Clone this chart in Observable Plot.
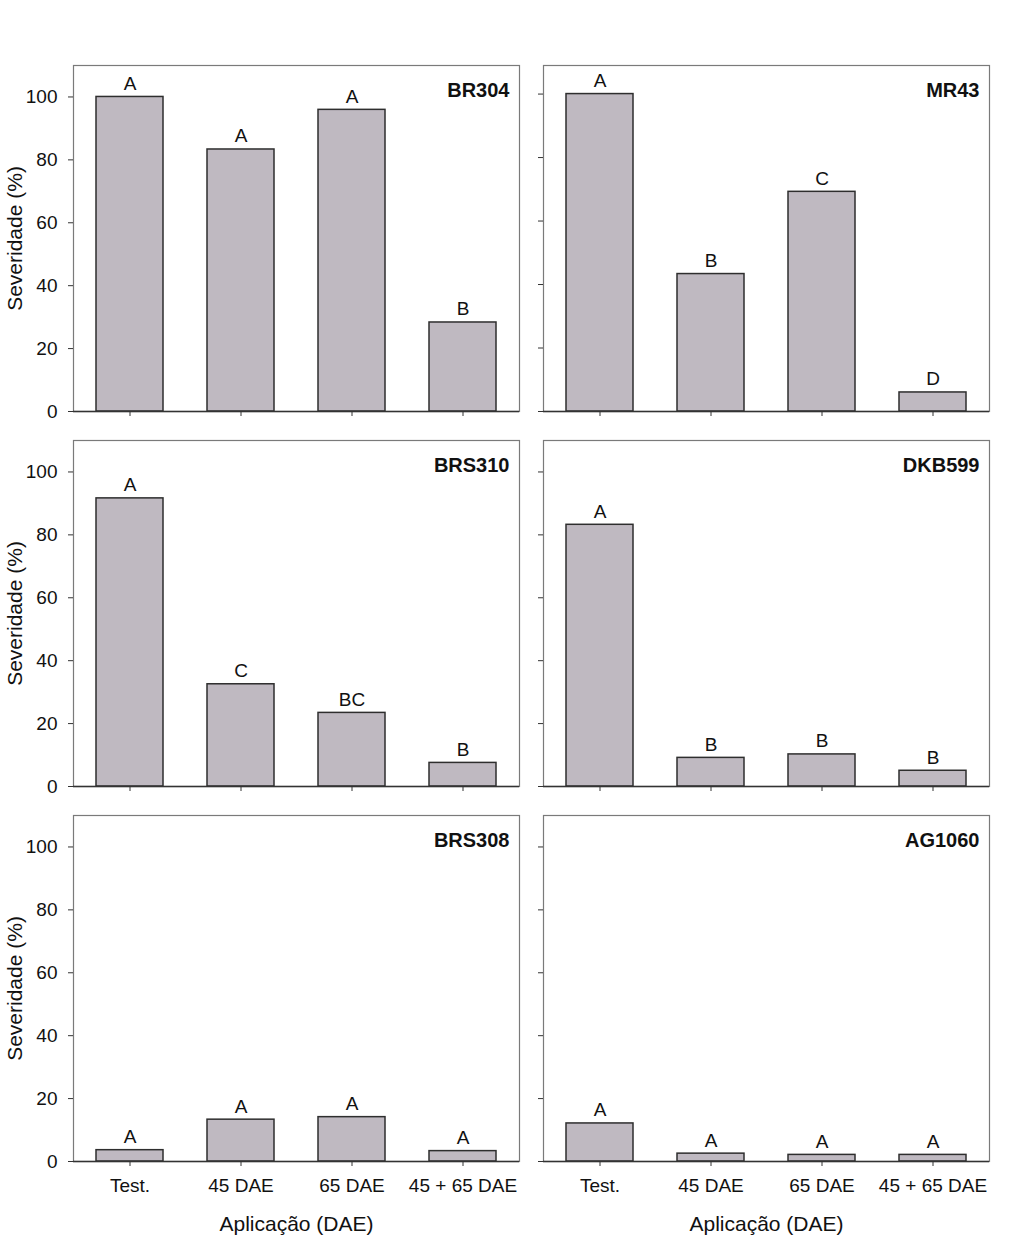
<!DOCTYPE html>
<html>
<head>
<meta charset="utf-8">
<script src="https://cdn.jsdelivr.net/npm/d3@7"></script>
<script src="https://cdn.jsdelivr.net/npm/@observablehq/plot@0.6"></script>
<style>
  html, body { margin: 0; padding: 0; background: #fff; }
  #wrap { position: relative; width: 1024px; height: 1240px; font-family: "Liberation Sans", Arial, sans-serif; }
  .panel { position: absolute; }
</style>
</head>
<body>
<div id="wrap"></div>
<script>
// ---- data ----
const treatments = ["Test.", "45 DAE", "65 DAE", "45 + 65 DAE"];
const cultivars = ["BR304", "MR43", "BRS310", "DKB599", "BRS308", "AG1060"];
const valBR304  = [100, 83.3, 95.9, 28.3];
const valMR43   = [100, 43.3, 69.2, 6.0];
const valBRS310 = [91.6, 32.5, 23.4, 7.5];
const valDKB599 = [83.2, 9.1, 10.2, 5.0];
const valBRS308 = [3.6, 13.3, 14.1, 3.3];
const valAG1060 = [12.1, 2.5, 2.1, 2.1];
const letBR304  = ["A", "A", "A", "B"];
const letMR43   = ["A", "B", "C", "D"];
const letBRS310 = ["A", "C", "BC", "B"];
const letDKB599 = ["A", "B", "B", "B"];
const letBRS308 = ["A", "A", "A", "A"];
const letAG1060 = ["A", "A", "A", "A"];
const yMax = [110, 109, 110, 110, 110, 110];
const yTicks = [0, 20, 40, 60, 80, 100];
const yTitle = "Severidade (%)";
const xTitle = "Aplicação (DAE)";

const values = [valBR304, valMR43, valBRS310, valDKB599, valBRS308, valAG1060];
const letters = [letBR304, letMR43, letBRS310, letDKB599, letBRS308, letAG1060];

const FONT = '"Liberation Sans", Arial, Helvetica, sans-serif';
const wrap = document.getElementById("wrap");

cultivars.forEach((name, idx) => {
  const col = idx % 2, row = Math.floor(idx / 2);
  const isLeft = col === 0, isBottom = row === 2;
  const data = treatments.map((t, i) => ({trt: t, val: values[idx][i], letter: letters[idx][i]}));

  const width = isLeft ? 530 : 494;
  const marginLeft = isLeft ? 73 : 13;
  const marginRight = isLeft ? 11 : 35;
  const marginTop = 25;
  const marginBottom = isBottom ? 75 : 4;
  const height = marginTop + 346 + marginBottom;

  const marks = [
    Plot.frame({stroke: "#7a7a7a", strokeWidth: 1.2}),
    Plot.barY(data, {x: "trt", y: "val", fill: "#bfb9c1", stroke: "#2e2e2e", strokeWidth: 1.5}),
    Plot.ruleY([0], {stroke: "#333", strokeWidth: 1.5}),
    Plot.axisY({ticks: yTicks, tickSize: 5, tickPadding: 11, stroke: "#333",
                tickFormat: isLeft ? (d => d) : (() => ""), label: null, fontSize: 19}),
    Plot.axisX({tickSize: 5, tickPadding: 12, stroke: "#333",
                tickFormat: isBottom ? (d => d) : (() => ""), label: null, fontSize: 19}),
    Plot.text(data, {x: "trt", y: "val", text: "letter", dy: -7, lineAnchor: "bottom",
                     fontSize: 19, fill: "#111"}),
    Plot.text([name], {frameAnchor: "top-right", text: d => d, dx: -10, dy: 17, lineAnchor: "top",
                       textAnchor: "end", fontWeight: "bold", fontSize: 20, fill: "#111"})
  ];
  if (isLeft) {
    marks.push(Plot.text([yTitle], {frameAnchor: "left", text: d => d, rotate: -90, dx: -66,
      lineAnchor: "top", textAnchor: "middle", fontSize: 21, fill: "#111"}));
  }
  if (isBottom) {
    marks.push(Plot.text([xTitle], {frameAnchor: "bottom", text: d => d, dy: 69,
      lineAnchor: "bottom", textAnchor: "middle", fontSize: 21, fill: "#111"}));
  }

  const chart = Plot.plot({
    width, height, marginLeft, marginRight, marginTop, marginBottom,
    style: {fontFamily: FONT, fontSize: "19px", color: "#111", background: "transparent", overflow: "visible"},
    x: {type: "band", domain: treatments, paddingInner: 0.4, paddingOuter: 0.2, axis: null},
    y: {domain: [0, yMax[idx]], axis: null},
    marks
  });
  const div = document.createElement("div");
  div.className = "panel";
  div.style.left = (isLeft ? 0 : 530) + "px";
  div.style.top = (40 + row * 375) + "px";
  div.appendChild(chart);
  wrap.appendChild(div);
});
</script>
</body>
</html>
